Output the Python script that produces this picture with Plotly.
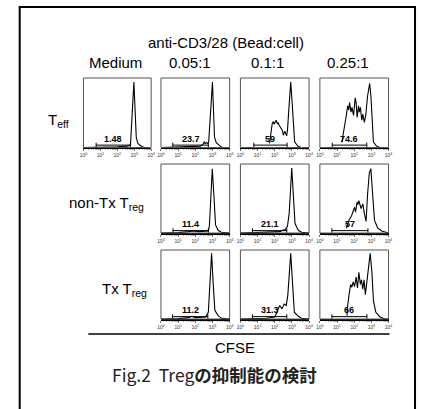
import plotly.graph_objects as go

W, H = 421, 409

# ---------------- text ----------------
title_text = "anti-CD3/28 (Bead:cell)"
col_names = ["Medium", "0.05:1", "0.1:1", "0.25:1"]
row_names = ["T<sub>eff</sub>", "non-Tx T<sub>reg</sub>", "Tx T<sub>reg</sub>"]
x_title = "CFSE"
caption = "Fig.2\u00a0\u00a0Treg<b>の抑制能の検討</b>"

tick_decades = [0, 1, 2, 3, 4]
tick_labels = ["10<sup>0</sup>", "10<sup>1</sup>", "10<sup>2</sup>", "10<sup>3</sup>", "10<sup>4</sup>"]

# ---------------- histograms (x: log10 CFSE, y: relative count) ----------------
teff_med_x = [0, 1.0, 2.0, 2.6, 2.78, 2.98, 3.06, 3.12, 3.2, 3.3, 3.45, 3.6, 4.0]
teff_med_y = [0, 0.0, 0.01, 0.02, 0.04, 0.96, 0.5, 0.15, 0.07, 0.04, 0.015, 0.0, 0.0]

teff_005_x = [0, 1.5, 2.3, 2.45, 2.52, 2.58, 2.65, 2.72, 2.78, 3.0, 3.06, 3.12, 3.22, 3.35, 3.5, 3.6, 4.0]
teff_005_y = [0, 0.01, 0.02, 0.05, 0.08, 0.06, 0.07, 0.06, 0.08, 0.96, 0.5, 0.15, 0.07, 0.04, 0.01, 0.0, 0.0]

teff_01_x = [1.70, 1.73, 1.79, 1.85, 1.92, 1.97, 2.02, 2.08, 2.15, 2.20, 2.25, 2.34, 2.44, 2.50, 2.59, 2.69,
             2.74, 2.82, 2.93, 3.0, 3.07, 3.16, 3.35, 3.54, 4.0]
teff_01_y = [0.06, 0.13, 0.25, 0.35, 0.38, 0.34, 0.37, 0.40, 0.35, 0.36, 0.33, 0.30, 0.25, 0.18, 0.24, 0.17,
             0.25, 0.56, 0.96, 0.70, 0.35, 0.08, 0.02, 0.0, 0.0]

teff_025_x = [1.28, 1.33, 1.45, 1.54, 1.62, 1.68, 1.73, 1.81, 1.87, 1.96, 2.06, 2.11, 2.17, 2.25, 2.30, 2.36,
              2.44, 2.50, 2.59, 2.67, 2.78, 2.90, 2.97, 3.05, 3.12, 3.30, 3.49, 4.0]
teff_025_y = [0.08, 0.17, 0.32, 0.47, 0.61, 0.55, 0.66, 0.52, 0.59, 0.47, 0.73, 0.66, 0.44, 0.61, 0.52, 0.59,
              0.40, 0.49, 0.37, 0.47, 0.76, 0.94, 0.76, 0.32, 0.08, 0.02, 0.0, 0.0]

ntx_005_x = [0, 1.0, 1.6, 1.9, 2.2, 2.5, 2.76, 2.82, 2.99, 3.10, 3.18, 3.33, 3.52, 4.0]
ntx_005_y = [0, 0.005, 0.02, 0.03, 0.02, 0.02, 0.03, 0.1, 0.95, 0.48, 0.12, 0.04, 0.01, 0.0]

ntx_01_x = [0, 1.5, 2.3, 2.45, 2.61, 2.74, 2.84, 2.99, 3.09, 3.18, 3.37, 3.56, 4.0]
ntx_01_y = [0, 0.01, 0.02, 0.04, 0.05, 0.1, 0.29, 0.96, 0.58, 0.14, 0.04, 0.01, 0.0]

ntx_025_x = [1.55, 1.60, 1.70, 1.85, 1.94, 2.02, 2.08, 2.17, 2.22, 2.27, 2.40, 2.50, 2.59, 2.69, 2.78, 2.88,
             2.97, 3.09, 3.18, 3.37, 3.60, 4.0]
ntx_025_y = [0.07, 0.12, 0.19, 0.26, 0.34, 0.38, 0.31, 0.46, 0.42, 0.48, 0.36, 0.43, 0.29, 0.17, 0.58, 0.89,
             0.95, 0.58, 0.19, 0.07, 0.03, 0.0]

tx_005_x = [0, 1.0, 1.6, 1.8, 2.0, 2.3, 2.6, 2.76, 2.82, 2.95, 3.05, 3.14, 3.33, 3.52, 4.0]
tx_005_y = [0, 0.005, 0.02, 0.04, 0.02, 0.02, 0.03, 0.1, 0.44, 0.97, 0.49, 0.13, 0.05, 0.01, 0.0]

tx_01_x = [0, 1.5, 2.0, 2.17, 2.29, 2.42, 2.55, 2.67, 2.76, 2.93, 3.05, 3.14, 3.37, 3.56, 4.0]
tx_01_y = [0, 0.01, 0.03, 0.13, 0.20, 0.15, 0.22, 0.20, 0.35, 0.97, 0.45, 0.10, 0.04, 0.01, 0.0]

tx_025_x = [1.58, 1.60, 1.70, 1.79, 1.86, 1.94, 2.02, 2.11, 2.19, 2.27, 2.36, 2.42, 2.50, 2.57, 2.65, 2.74,
            2.84, 2.93, 3.03, 3.12, 3.26, 3.50, 3.79, 4.0]
tx_025_y = [0.05, 0.16, 0.36, 0.51, 0.47, 0.55, 0.48, 0.62, 0.46, 0.69, 0.51, 0.58, 0.44, 0.58, 0.36, 0.55,
            0.82, 0.97, 0.69, 0.27, 0.10, 0.03, 0.0, 0.0]

# gates (log10 CFSE) and percentages, panel order below
gate_lo = [0.75, 0.69, 0.78, 0.72, 0.70, 0.70, 0.70, 0.67, 0.70, 0.70]
gate_hi = [2.77, 2.76, 2.72, 2.73, 2.76, 2.70, 2.80, 2.73, 2.70, 2.74]
gate_pct = ["1.48", "23.7", "59", "74.6", "11.4", "21.1", "57", "11.2", "31.3", "66"]

panels = [  # (row, col, x, y)
    (0, 0, teff_med_x, teff_med_y),
    (0, 1, teff_005_x, teff_005_y),
    (0, 2, teff_01_x, teff_01_y),
    (0, 3, teff_025_x, teff_025_y),
    (1, 1, ntx_005_x, ntx_005_y),
    (1, 2, ntx_01_x, ntx_01_y),
    (1, 3, ntx_025_x, ntx_025_y),
    (2, 1, tx_005_x, tx_005_y),
    (2, 2, tx_01_x, tx_01_y),
    (2, 3, tx_025_x, tx_025_y),
]

# ---------------- layout geometry (pixels) ----------------
col_px = [(81, 150), (160, 230), (241, 311), (322, 392)]
row_px = [(78, 147.5), (164, 233), (250, 319)]


def px_x(v):
    return v / W


def px_y(v):
    return 1 - v / H


FONT = "Liberation Sans, Arial, sans-serif"

fig = go.Figure()
layout = dict(
    width=W, height=H, margin=dict(l=0, r=0, t=0, b=0),
    paper_bgcolor="white", plot_bgcolor="white", showlegend=False,
    font=dict(family=FONT, color="black"),
)
shapes = []
annotations = []

for i, (r, c, xs, ys) in enumerate(panels):
    n = i + 1
    sfx = "" if n == 1 else str(n)
    xa, ya = "x" + sfx, "y" + sfx
    x0, x1 = col_px[c]
    y0, y1 = row_px[r]
    layout["xaxis" + sfx] = dict(
        domain=[px_x(x0), px_x(x1)], anchor=ya, type="log", range=[0, 4],
        tickvals=[10 ** d for d in tick_decades], ticktext=tick_labels,
        ticks="outside", ticklen=2, tickwidth=0.7, tickcolor="#444",
        tickfont=dict(size=5, color="#333", family=FONT),
        showline=True, linecolor="black", linewidth=1.6,
        showgrid=False, zeroline=False,
        minor=dict(ticks="outside", ticklen=1.2, tickwidth=0.5, tickcolor="#666", dtick="D1", showgrid=False),
    )
    layout["yaxis" + sfx] = dict(
        domain=[px_y(y1), px_y(y0)], anchor=xa, range=[0, 1.02], visible=False,
    )
    fig.add_trace(go.Scatter(
        x=[10 ** v for v in xs], y=ys, xaxis=xa, yaxis=ya, mode="lines",
        line=dict(color="black", width=1.1), hoverinfo="skip",
    ))
    # gate bracket
    g0, g1 = 10 ** gate_lo[i], 10 ** gate_hi[i]
    fig.add_trace(go.Scatter(
        x=[g0, g0, None, g0, g1, None, g1, g1],
        y=[0.005, 0.07, None, 0.035, 0.035, None, 0.005, 0.07],
        xaxis=xa, yaxis=ya, mode="lines", line=dict(color="black", width=1), hoverinfo="skip",
    ))
    annotations.append(dict(
        x=(gate_lo[i] + gate_hi[i]) / 2, y=0.025, xref=xa, yref=ya,
        text="<b>" + gate_pct[i] + "</b>", showarrow=False, yanchor="bottom", xanchor="center",
        font=dict(size=9, family=FONT, color="black"),
    ))
    shapes.append(dict(type="rect", xref=xa + " domain", yref=ya + " domain", x0=0, x1=1, y0=0, y1=1,
                       line=dict(color="#555", width=1)))


def label(text, x, y, size=15, xanchor="center", **font):
    annotations.append(dict(x=px_x(x), y=px_y(y), xref="paper", yref="paper", text=text,
                            showarrow=False, xanchor=xanchor, yanchor="middle",
                            font=dict(size=size, **font)))


label(title_text, 226, 43)
col_cx = [114, 190, 269, 351]
for name, cx in zip(col_names, col_cx):
    label(name, cx, 63)
label(row_names[0], 56, 120)
label(row_names[1], 145, 203, xanchor="right")
label(row_names[2], 148, 289, xanchor="right")
label(x_title, 235, 347)
label(caption, 215, 374, size=17.5, family="Noto Sans CJK JP", color="#222")

# frame and divider
shapes.append(dict(type="rect", xref="paper", yref="paper", x0=px_x(16), x1=px_x(419),
                   y0=-0.05, y1=px_y(7), line=dict(color="black", width=2)))
shapes.append(dict(type="line", xref="paper", yref="paper", x0=px_x(86), x1=px_x(393),
                   y0=px_y(334), y1=px_y(334), line=dict(color="black", width=1.5)))

layout["shapes"] = shapes
layout["annotations"] = annotations
fig.update_layout(**layout)
fig.write_html("out.html", config={"displayModeBar": False, "staticPlot": True},
               post_script="document.body.style.margin='0px';document.body.style.overflow='hidden';")
